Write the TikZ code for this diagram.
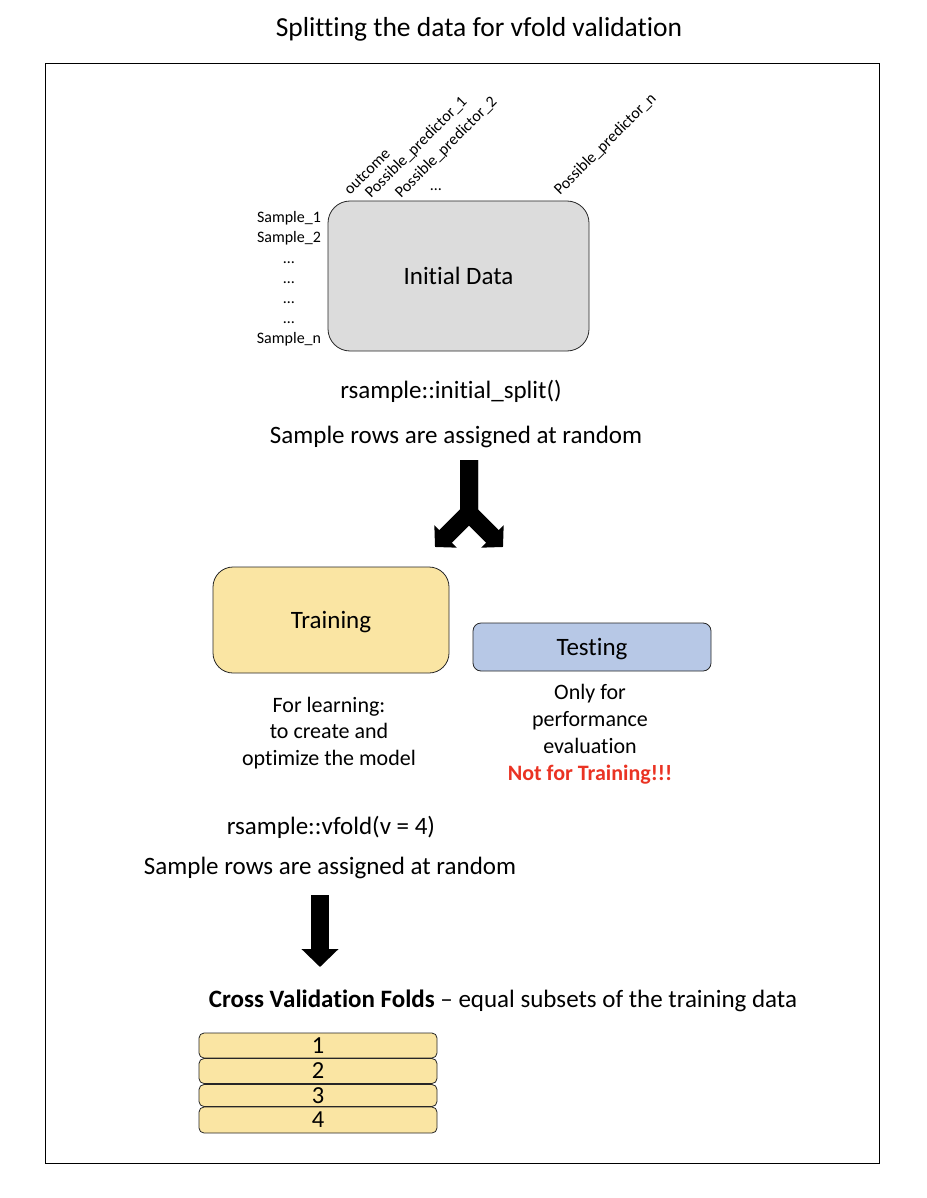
\documentclass[tikz,border=0pt]{standalone}
\usepackage{fontspec}
\setmainfont{Carlito}[Ligatures={TeX,NoCommon}]
\usetikzlibrary{arrows.meta}
\definecolor{datagray}{HTML}{DCDCDC}
\definecolor{trainyellow}{HTML}{FAE5A3}
\definecolor{testblue}{HTML}{B7C8E6}
\definecolor{alertred}{HTML}{EA3323}
\newcommand{\fsz}[2]{\fontsize{#1}{#2}\selectfont}

\begin{document}
\begin{tikzpicture}[x=1pt, y=-1pt, >=latex,
    databox/.style={draw=black!85, line width=0.8pt, rounded corners=#1, inner sep=0pt},
    txt/.style={inner sep=0pt, font=\fsz{25}{30}},
    small/.style={inner sep=0pt, font=\fsz{16}{20}},
    bigarrow/.style={line width=18pt, line join=miter}]
  \useasboundingbox (0,0) rectangle (926,1198);
  \node[txt, font=\fsz{27.5}{32}] (title) at (479,29) {Splitting the data for vfold validation};
  \draw[line width=0.8pt] (45,63) rectangle (879,1163);

  % initial data with its rows and columns
  \node[databox=22pt, fill=datagray, minimum width=261pt, minimum height=150pt,
        font=\fsz{25}{30}] (init) at (458.5,276) {Initial Data};
  \foreach \lab [count=\i from 0] in {Sample\_1, Sample\_2, …, …, …, …, Sample\_n}
    \node[small, anchor=base] (row\i) at (289,223+20*\i) {\lab};
  \foreach \lab/\x/\y [count=\i] in {outcome/350/196, Possible\_predictor\_1/371/199,
      Possible\_predictor\_2/401/199, Possible\_predictor\_n/560/196}
    \node[small, anchor=base west, rotate=45] (col\i) at (\x,\y) {\lab};
  \node[small, anchor=base] (coldots) at (436,191) {…};

  \node[txt] (isplit) at (451,391) {rsample::initial\_split()};
  \node[txt] (random1) at (456,437) {Sample rows are assigned at random};

  % split arrow
  \coordinate (fork) at (469,513);
  \foreach \s in {-1,1}
    \draw[bigarrow, -{Triangle[length=15pt,width=31pt]}] (469,460) -- (fork) -- ++(34*\s,34);

  \node[databox=20pt, fill=trainyellow, minimum width=236pt, minimum height=106pt,
        text depth=0pt, font=\fsz{25}{30}] (train) at (331,620) {Training};
  \node[databox=8pt, fill=testblue, minimum width=238pt, minimum height=48pt,
        text depth=0pt, font=\fsz{25}{30}] (test) at (592,647) {Testing};
  \node[inner sep=0pt, align=center, font=\fsz{22}{26.5}] (trainnote) at (329,733)
    {For learning:\\to create and\\optimize the model};
  \node[inner sep=0pt, align=center, font=\fsz{22}{27}] (testnote) at (590,734)
    {Only for\\performance\\evaluation\\\textcolor{alertred}{\bfseries Not for Training!!!}};

  \node[txt] (vfold) at (331,827) {rsample::vfold(v = 4)};
  \node[txt] (random2) at (330,868) {Sample rows are assigned at random};
  \coordinate (down) at (320,895);
  \draw[bigarrow, -{Triangle[length=18pt,width=36pt]}] (down) -- (320,967);

  \node[txt] (cvtitle) at (503,1001) {\textbf{Cross Validation Folds} -- equal subsets of the training data};
  \foreach \i/\y/\h in {1/1045.5/25, 2/1071/25, 3/1095.5/22, 4/1120/26}
    \node[databox=5pt, fill=trainyellow, minimum width=238pt, minimum height=\h pt,
          font=\fsz{24.5}{26}] (fold\i) at (318,\y) {\i};
\end{tikzpicture}
\end{document}
